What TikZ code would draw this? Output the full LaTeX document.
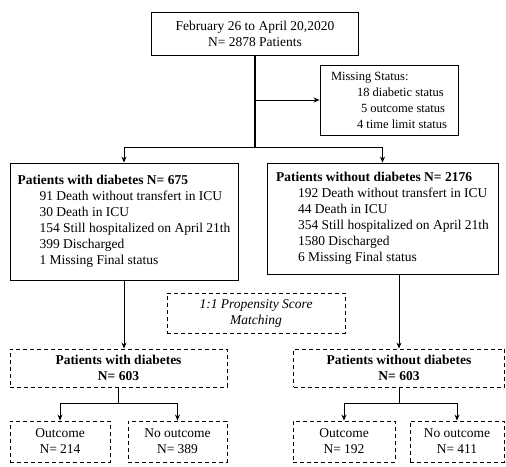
\documentclass[tikz,border=0pt]{standalone}
\usepackage{fontspec}
\setmainfont{Liberation Serif}
\usetikzlibrary{arrows.meta}

\tikzset{
  box/.style={draw, line width=0.9pt, inner sep=0pt, align=center, font=\fontsize{13.5}{16}\selectfont},
  dbox/.style={box, dash pattern={on 4pt off 3pt}},
  arr/.style={line width=0.9pt, -{Stealth[length=6pt,width=5pt]}},
}

\begin{document}
\begin{tikzpicture}[x=1pt,y=1pt,yscale=-1,xscale=1]
\useasboundingbox (0,0) rectangle (506,466);

%Shape: Rectangle [top]
\node [box, minimum width=207pt, minimum height=43pt] (top) at (255,33.5) {February 26 to April 20,2020\\N= 2878 Patients};
%Shape: Rectangle [missing]
\node [box, minimum width=138pt, minimum height=70pt, align=left, font=\fontsize{12.5}{16}\selectfont] (miss) at (389,100)
  {Missing Status:\\\hspace{26pt}18 diabetic status\\\hspace{30pt}5 outcome status\\\hspace{26pt}4 time limit status};
%Shape: Rectangle [with diabetes]
\node [box, minimum width=228pt, minimum height=117pt, align=left] (lbox) at (124,221.5)
  {\textbf{Patients with diabetes N= 675}\\
   \hspace{22pt}91 Death without transfert in ICU\\
   \hspace{22pt}30 Death in ICU\\
   \hspace{22pt}154 Still hospitalized on April 21th\\
   \hspace{22pt}399 Discharged\\
   \hspace{22pt}1 Missing Final status};
%Shape: Rectangle [without diabetes]
\node [box, minimum width=231pt, minimum height=111pt, align=left] (rbox) at (382.5,218.5)
  {\textbf{Patients without diabetes N= 2176}\\
   \hspace{22pt}192 Death without transfert in ICU\\
   \hspace{22pt}44 Death in ICU\\
   \hspace{22pt}354 Still hospitalized on April 21th\\
   \hspace{22pt}1580 Discharged\\
   \hspace{22pt}6 Missing Final status};
%Shape: Dashed Rectangle [matching]
\node [dbox, minimum width=178pt, minimum height=40pt, font=\fontsize{13.5}{16}\selectfont\itshape] (psm) at (256,313) {1:1 Propensity Score\\Matching};
%Shape: Dashed Rectangle [matched groups]
\node [dbox, minimum width=217pt, minimum height=38pt] (dl) at (118.5,368) {\textbf{Patients with diabetes}\\\textbf{N= 603}};
\node [dbox, minimum width=211pt, minimum height=38pt] (dr) at (399,368) {\textbf{Patients without diabetes}\\\textbf{N= 603}};
%Shape: Dashed Rectangle [outcomes]
\node [dbox, minimum width=100pt, minimum height=41pt] (lout) at (60,441.5) {Outcome\\N= 214};
\node [dbox, minimum width=99pt, minimum height=41pt] (lno) at (177.5,441.5) {No outcome\\N= 389};
\node [dbox, minimum width=102pt, minimum height=41pt] (rout) at (344,441.5) {Outcome\\N= 192};
\node [dbox, minimum width=94pt, minimum height=41pt] (rno) at (457,441.5) {No outcome\\N= 411};

%Straight Lines [split]
\coordinate (sp) at (255,147);
\draw [line width=2pt] (top.south) -- (sp);
\draw [arr] (top.south |- miss.west) -- (miss.west);
\draw [arr] (sp) -| (lbox);
\draw [arr] (sp) -| (rbox);
%Straight Lines [to matched]
\draw [arr] (lbox.south) -- (lbox.south |- dl.north);
\draw [arr] (dr.north |- rbox.south) -- (dr.north);
%Straight Lines [to outcomes]
\draw [line width=0.9pt] (dl.south) -- ++(0,16) coordinate (lsp);
\draw [arr] (lsp) -| (lout);
\draw [arr] (lsp) -| (lno);
\draw [line width=0.9pt] (dr.south) -- ++(0,16) coordinate (rsp);
\draw [arr] (rsp) -| (rout);
\draw [arr] (rsp) -| (rno);

\end{tikzpicture}
\end{document}
